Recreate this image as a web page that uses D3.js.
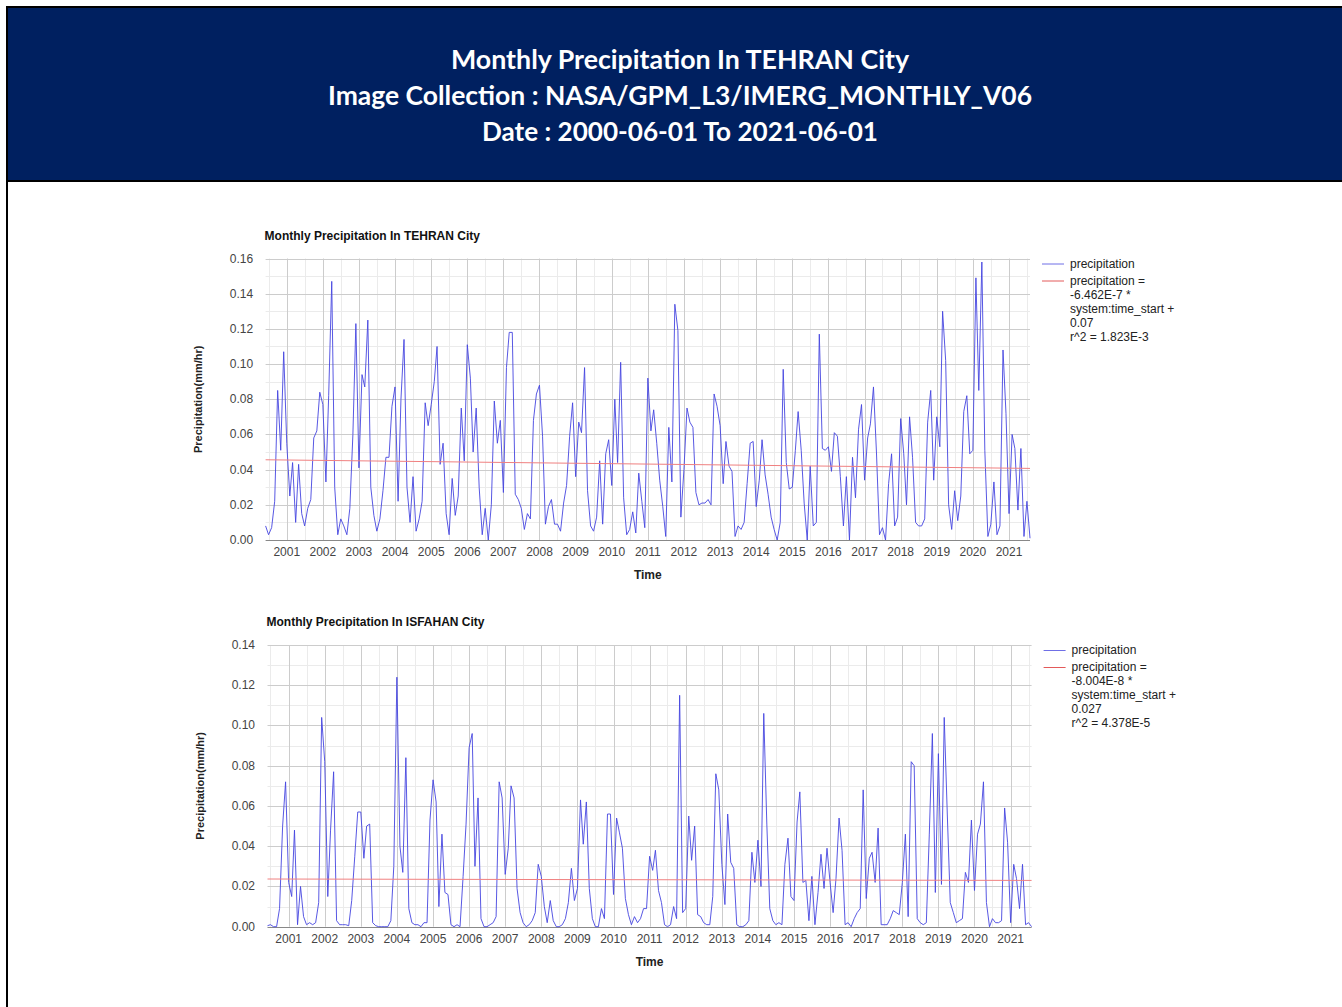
<!DOCTYPE html>
<html>
<head>
<meta charset="utf-8">
<script src="https://cdn.jsdelivr.net/npm/d3@7"></script>
<style>
  html, body { margin: 0; padding: 0; background: #fff; }
  svg text { font-family: "Liberation Sans", Arial, sans-serif; }
</style>
</head>
<body>
<div class="js-graph"></div>
<script>
// monthly series, first month 2000-06
var startMonth = '2000-06-01';
var yearTicks = d3.range(2001, 2022);

var tehranValues = [
	0.008, 0.003, 0.007, 0.022, 0.085, 0.051, 0.107, 0.055, 0.025, 0.044,
	0.010, 0.043, 0.015, 0.008, 0.018, 0.023, 0.058, 0.062, 0.084, 0.077,
	0.033, 0.082, 0.147, 0.030, 0.003, 0.012, 0.008, 0.003, 0.018, 0.060,
	0.123, 0.041, 0.094, 0.087, 0.125, 0.030, 0.014, 0.005, 0.012, 0.028,
	0.047, 0.047, 0.076, 0.087, 0.022, 0.080, 0.114, 0.030, 0.010, 0.036,
	0.005, 0.012, 0.022, 0.078, 0.065, 0.077, 0.090, 0.110, 0.043, 0.055,
	0.015, 0.003, 0.035, 0.014, 0.025, 0.075, 0.045, 0.111, 0.092, 0.050,
	0.075, 0.030, 0.003, 0.018, 0.000, 0.020, 0.079, 0.055, 0.068, 0.027,
	0.098, 0.118, 0.118, 0.026, 0.023, 0.018, 0.006, 0.015, 0.012, 0.068,
	0.083, 0.088, 0.059, 0.009, 0.019, 0.023, 0.009, 0.009, 0.005, 0.021,
	0.031, 0.059, 0.078, 0.036, 0.067, 0.061, 0.098, 0.028, 0.008, 0.005,
	0.013, 0.045, 0.009, 0.049, 0.057, 0.031, 0.080, 0.044, 0.101, 0.024,
	0.003, 0.006, 0.016, 0.004, 0.038, 0.022, 0.007, 0.092, 0.062, 0.074,
	0.055, 0.034, 0.019, 0.002, 0.064, 0.033, 0.134, 0.119, 0.013, 0.040,
	0.075, 0.067, 0.064, 0.027, 0.020, 0.021, 0.021, 0.023, 0.020, 0.083,
	0.076, 0.065, 0.032, 0.056, 0.042, 0.039, 0.002, 0.008, 0.006, 0.010,
	0.032, 0.055, 0.056, 0.019, 0.034, 0.057, 0.037, 0.026, 0.013, 0.006,
	0.000, 0.010, 0.097, 0.044, 0.029, 0.030, 0.051, 0.073, 0.051, 0.021,
	0.000, 0.042, 0.008, 0.010, 0.117, 0.052, 0.051, 0.053, 0.039, 0.061,
	0.059, 0.036, 0.008, 0.036, 0.000, 0.047, 0.024, 0.063, 0.077, 0.034,
	0.058, 0.066, 0.087, 0.050, 0.003, 0.007, 0.000, 0.032, 0.049, 0.008,
	0.013, 0.069, 0.049, 0.020, 0.070, 0.047, 0.010, 0.008, 0.008, 0.012,
	0.067, 0.085, 0.034, 0.070, 0.053, 0.130, 0.102, 0.020, 0.006, 0.028,
	0.011, 0.025, 0.073, 0.082, 0.049, 0.051, 0.149, 0.085, 0.158, 0.051,
	0.002, 0.009, 0.033, 0.003, 0.008, 0.108, 0.072, 0.015, 0.060, 0.052,
	0.017, 0.052, 0.002, 0.022, 0.001
];

var isfahanValues = [
	0.0005, 0.001, 0.000, 0.000, 0.009, 0.050, 0.072, 0.022, 0.015, 0.048,
	0.001, 0.020, 0.005, 0.001, 0.002, 0.001, 0.002, 0.012, 0.104, 0.082,
	0.015, 0.048, 0.077, 0.003, 0.001, 0.001, 0.001, 0.0005, 0.013, 0.035,
	0.057, 0.057, 0.034, 0.050, 0.051, 0.002, 0.0005, 0.000, 0.000, 0.000,
	0.000, 0.003, 0.030, 0.124, 0.040, 0.027, 0.084, 0.009, 0.002, 0.001,
	0.001, 0.000, 0.002, 0.002, 0.053, 0.073, 0.062, 0.010, 0.046, 0.017,
	0.016, 0.001, 0.000, 0.001, 0.000, 0.025, 0.051, 0.089, 0.096, 0.030,
	0.064, 0.004, 0.000, 0.000, 0.001, 0.002, 0.005, 0.072, 0.064, 0.026,
	0.039, 0.070, 0.064, 0.019, 0.007, 0.002, 0.000, 0.001, 0.003, 0.007,
	0.031, 0.025, 0.010, 0.002, 0.013, 0.003, 0.000, 0.000, 0.001, 0.004,
	0.012, 0.029, 0.013, 0.019, 0.063, 0.041, 0.062, 0.019, 0.004, 0.000,
	0.000, 0.009, 0.004, 0.056, 0.056, 0.016, 0.054, 0.047, 0.039, 0.014,
	0.006, 0.001, 0.005, 0.002, 0.004, 0.009, 0.009, 0.035, 0.028, 0.038,
	0.018, 0.012, 0.001, 0.000, 0.001, 0.010, 0.004, 0.115, 0.007, 0.009,
	0.055, 0.033, 0.050, 0.006, 0.005, 0.002, 0.001, 0.001, 0.015, 0.076,
	0.068, 0.031, 0.011, 0.056, 0.032, 0.029, 0.001, 0.000, 0.000, 0.001,
	0.003, 0.037, 0.022, 0.043, 0.020, 0.106, 0.051, 0.009, 0.003, 0.001,
	0.002, 0.001, 0.031, 0.044, 0.015, 0.013, 0.052, 0.067, 0.022, 0.023,
	0.003, 0.025, 0.001, 0.017, 0.036, 0.019, 0.039, 0.022, 0.007, 0.024,
	0.054, 0.038, 0.001, 0.002, 0.000, 0.004, 0.007, 0.009, 0.068, 0.014,
	0.034, 0.037, 0.022, 0.049, 0.001, 0.001, 0.001, 0.004, 0.008, 0.007,
	0.006, 0.022, 0.046, 0.005, 0.082, 0.080, 0.004, 0.002, 0.001, 0.002,
	0.046, 0.096, 0.017, 0.086, 0.021, 0.104, 0.056, 0.012, 0.007, 0.002,
	0.003, 0.004, 0.027, 0.022, 0.053, 0.018, 0.046, 0.051, 0.072, 0.012,
	0.000, 0.004, 0.002, 0.002, 0.003, 0.059, 0.042, 0.002, 0.031, 0.024,
	0.009, 0.031, 0.001, 0.002, 0.000
];

// trend line values at first and last month
var tehranTrend = [0.0456, 0.0407];
var isfahanTrend = [0.0237, 0.0230];

var tehranLegend = ['precipitation =', '-6.462E-7 *', 'system:time_start +', '0.07', 'r^2 = 1.823E-3'];
var isfahanLegend = ['precipitation =', '-8.004E-8 *', 'system:time_start +', '0.027', 'r^2 = 4.378E-5'];

var headerLines = [
	'Monthly Precipitation In TEHRAN City',
	'Image Collection : NASA/GPM_L3/IMERG_MONTHLY_V06',
	'Date : 2000-06-01 To 2021-06-01'
];

(function(d3) {
	var W = 1342, H = 1007;
	var svg = d3.select('.js-graph').append('svg')
		.attr('width', W).attr('height', H)
		.style('display', 'block');

	// header banner
	svg.append('rect')
		.attr('x', 7).attr('y', 7).attr('width', W).attr('height', 174)
		.attr('fill', '#002060').attr('stroke', '#000').attr('stroke-width', 2);
	svg.append('line')
		.attr('x1', 7).attr('x2', 7).attr('y1', 181).attr('y2', H)
		.attr('stroke', '#000').attr('stroke-width', 2);

	var headerWidths = [458, 704, 396];
	svg.selectAll('text.head')
		.data(headerLines)
		.enter()
		.append('text')
		.attr('class', 'head')
		.attr('x', 680)
		.attr('y', function(d, i) { return 69 + i * 36; })
		.attr('text-anchor', 'middle')
		.attr('textLength', function(d, i) { return headerWidths[i]; })
		.attr('lengthAdjust', 'spacingAndGlyphs')
		.style('font-family', 'Lato, "Open Sans", sans-serif')
		.style('font-weight', 'bold')
		.style('font-size', '27px')
		.attr('fill', '#fff')
		.text(function(d) { return d; });

	var parse = d3.timeParse('%Y-%m-%d');
	var start = parse(startMonth);

	function drawChart(opt) {
		var data = opt.values.map(function(v, i) {
			return { date: d3.timeMonth.offset(start, i), value: v };
		});
		var x = d3.scaleTime()
			.domain([data[0].date, data[data.length - 1].date])
			.range([opt.left, opt.right]);
		var y = d3.scaleLinear()
			.domain([0, opt.yMax])
			.range([opt.bottom, opt.top]);

		var g = svg.append('g');

		// minor grid
		var minorY = d3.range(0.01, opt.yMax, 0.02);
		g.selectAll('.minor-y').data(minorY).enter().append('line')
			.attr('x1', opt.left).attr('x2', opt.right)
			.attr('y1', function(d) { return Math.round(y(d)) + 0.5; })
			.attr('y2', function(d) { return Math.round(y(d)) + 0.5; })
			.attr('stroke', '#ebebeb');
		var midYears = yearTicks.map(function(yr) { return new Date(yr - 1, 6, 1); });
		midYears.push(new Date(2021, 6, 1));
		g.selectAll('.minor-x').data(midYears).enter().append('line')
			.attr('x1', function(d) { return Math.round(x(d)) + 0.5; })
			.attr('x2', function(d) { return Math.round(x(d)) + 0.5; })
			.attr('y1', opt.top).attr('y2', opt.bottom)
			.attr('stroke', '#ebebeb');

		// major grid
		var majorY = d3.range(0.02, opt.yMax + 0.001, 0.02);
		g.selectAll('.major-y').data(majorY).enter().append('line')
			.attr('x1', opt.left).attr('x2', opt.right)
			.attr('y1', function(d) { return Math.round(y(d)) + 0.5; })
			.attr('y2', function(d) { return Math.round(y(d)) + 0.5; })
			.attr('stroke', '#cccccc');
		var years = yearTicks.map(function(yr) { return new Date(yr, 0, 1); });
		g.selectAll('.major-x').data(years).enter().append('line')
			.attr('x1', function(d) { return Math.round(x(d)) + 0.5; })
			.attr('x2', function(d) { return Math.round(x(d)) + 0.5; })
			.attr('y1', opt.top).attr('y2', opt.bottom)
			.attr('stroke', '#cccccc');

		// baseline
		g.append('line')
			.attr('x1', opt.left).attr('x2', opt.right)
			.attr('y1', Math.round(y(0)) + 0.5).attr('y2', Math.round(y(0)) + 0.5)
			.attr('stroke', '#888');

		// y tick labels
		var yTicks = d3.range(0, opt.yMax + 0.001, 0.02);
		g.selectAll('.ytick').data(yTicks).enter().append('text')
			.attr('x', opt.left - 12.5)
			.attr('y', function(d) { return y(d) + 4; })
			.attr('text-anchor', 'end')
			.style('font-size', '12px')
			.attr('fill', '#444')
			.text(d3.format('.2f'));

		// x tick labels
		g.selectAll('.xtick').data(years).enter().append('text')
			.attr('x', function(d) { return x(d); })
			.attr('y', opt.bottom + 16)
			.attr('text-anchor', 'middle')
			.style('font-size', '12px')
			.attr('fill', '#444')
			.text(d3.timeFormat('%Y'));

		// series line
		var line = d3.line()
			.x(function(d) { return x(d.date); })
			.y(function(d) { return y(d.value); });
		g.append('path')
			.datum(data)
			.attr('d', line)
			.attr('fill', 'none')
			.attr('stroke', '#4646e0')
			.attr('stroke-opacity', 0.9)
			.attr('stroke-width', 1);

		// trend line
		g.append('line')
			.attr('x1', x(data[0].date)).attr('x2', x(data[data.length - 1].date))
			.attr('y1', y(opt.trend[0])).attr('y2', y(opt.trend[1]))
			.attr('stroke', '#f08080')
			.attr('stroke-width', 1);

		// titles
		g.append('text')
			.attr('x', opt.left - 1).attr('y', opt.top - 19)
			.style('font-size', '12px').style('font-weight', 'bold')
			.attr('fill', '#111')
			.text(opt.title);
		g.append('text')
			.attr('x', (opt.left + opt.right) / 2).attr('y', opt.bottom + 39)
			.attr('text-anchor', 'middle')
			.style('font-size', '12px').style('font-weight', 'bold')
			.attr('fill', '#222')
			.text('Time');
		g.append('text')
			.attr('transform', 'translate(' + (opt.left - 64) + ',' + ((opt.top + opt.bottom) / 2) + ') rotate(-90)')
			.attr('text-anchor', 'middle')
			.style('font-size', '11px').style('font-weight', 'bold')
			.attr('fill', '#222')
			.text('Precipitation(mm/hr)');

		// legend
		var lx = opt.right + 12, ly = opt.top + 5;
		g.append('line')
			.attr('x1', lx).attr('x2', lx + 22)
			.attr('y1', ly + 0.5).attr('y2', ly + 0.5)
			.attr('stroke', '#6f6fe6');
		g.append('text')
			.attr('x', lx + 28).attr('y', ly + 4)
			.style('font-size', '12px').attr('fill', '#222')
			.text('precipitation');
		g.append('line')
			.attr('x1', lx).attr('x2', lx + 22)
			.attr('y1', ly + 17.5).attr('y2', ly + 17.5)
			.attr('stroke', '#e35a5a');
		g.selectAll('.leg').data(opt.legend).enter().append('text')
			.attr('x', lx + 28)
			.attr('y', function(d, i) { return ly + 21 + i * 14; })
			.style('font-size', '12px').attr('fill', '#222')
			.text(function(d) { return d; });
	}

	drawChart({
		title: 'Monthly Precipitation In TEHRAN City',
		values: tehranValues, trend: tehranTrend, legend: tehranLegend,
		yMax: 0.16, left: 265.6, right: 1030, top: 258.5, bottom: 540
	});
	drawChart({
		title: 'Monthly Precipitation In ISFAHAN City',
		values: isfahanValues, trend: isfahanTrend, legend: isfahanLegend,
		yMax: 0.14, left: 267.5, right: 1031.6, top: 645, bottom: 926.7
	});
})(d3);
</script>
</body>
</html>
